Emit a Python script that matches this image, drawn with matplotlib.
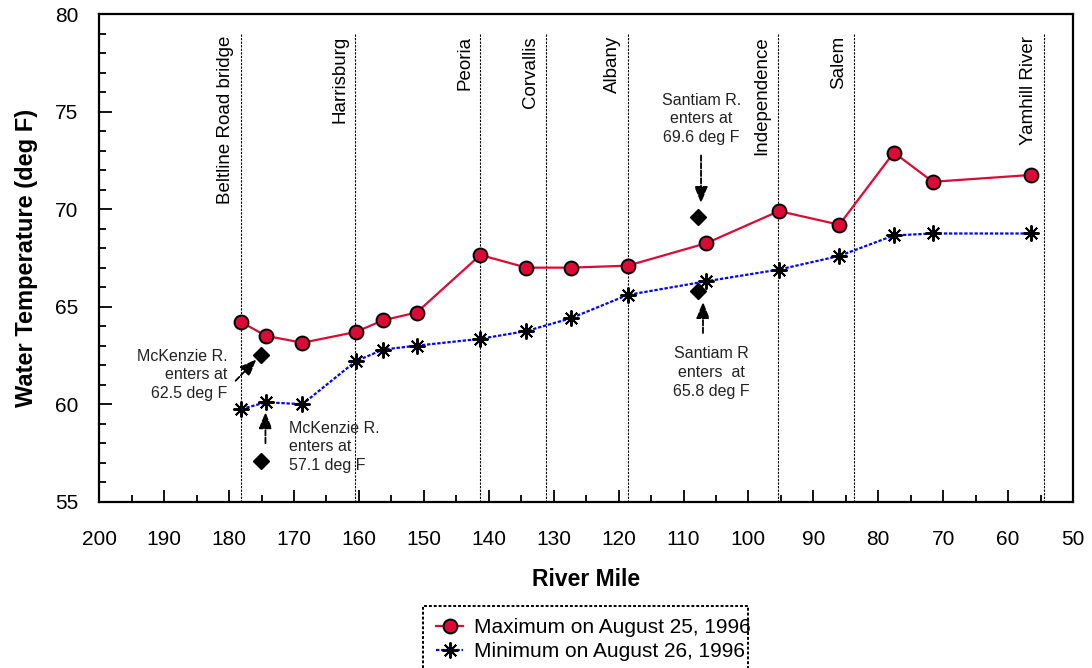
import matplotlib
matplotlib.use("Agg")
import matplotlib.pyplot as plt
from matplotlib.patches import Rectangle
from matplotlib.ticker import MultipleLocator

plt.rcParams['font.family'] = ['Liberation Sans', 'DejaVu Sans']

# ---- data ----
max_miles = [178.1, 174.3, 168.7, 160.5, 156.3, 151.1, 141.3, 134.2, 127.4, 118.6,
             106.5, 95.3, 86.0, 77.6, 71.6, 56.5]
max_temps = [64.2, 63.5, 63.15, 63.7, 64.3, 64.7, 67.65, 67.0, 67.0, 67.1,
             68.25, 69.9, 69.2, 72.9, 71.4, 71.75]
min_miles = [178.1, 174.3, 168.7, 160.5, 156.3, 151.1, 141.3, 134.2, 127.4, 118.6,
             106.5, 95.3, 86.0, 77.6, 71.6, 56.5]
min_temps = [59.75, 60.1, 60.0, 62.2, 62.8, 63.0, 63.35, 63.75, 64.4, 65.6,
             66.3, 66.9, 67.6, 68.65, 68.75, 68.75]

station_names = ["Beltline Road bridge", "Harrisburg", "Peoria", "Corvallis", "Albany",
                 "Independence", "Salem", "Yamhill River"]
station_miles = [178.1, 160.6, 141.3, 131.2, 118.6, 95.5, 83.7, 54.5]

trib_miles = [175.1, 175.1, 107.7, 107.7]
trib_temps = [62.5, 57.1, 69.6, 65.8]

legend_labels = ["Maximum on August 25, 1996", "Minimum on August 26, 1996"]

fig = plt.figure(figsize=(10.92, 6.68), dpi=100)
ax = fig.add_axes([0.0909, 0.2489, 0.8917, 0.7301])

ax.set_xlim(200, 50)
ax.set_ylim(55, 80)

# station lines and labels
ax.vlines(station_miles, 55, 79.0, colors='black', linewidth=0.8,
          linestyles=(0, (2, 1.2)), zorder=1)
for name, m in zip(station_names, station_miles):
    ax.annotate(name, xy=(m, 78.87), xytext=(-5, 0), textcoords='offset points',
                rotation=90, ha='right', va='top', fontsize=13.5)

# series
l1, = ax.plot(max_miles, max_temps, color='#DC0A36', linewidth=1.6, marker='o',
              markersize=10, markerfacecolor='#DC0A36', markeredgecolor='black',
              markeredgewidth=1.4, zorder=4)
l2, = ax.plot(min_miles, min_temps, color='#0000FF', linewidth=1.6,
              linestyle=(0, (1.5, 0.8)), marker=(8, 2, 0), markersize=11.5,
              markeredgecolor='black', markerfacecolor='black',
              markeredgewidth=1.4, zorder=4)

# tributary inflow diamonds
ax.plot(trib_miles, trib_temps, linestyle='none', marker='D', markersize=8,
        color='black', zorder=5)

# arrows
arrow_kw = dict(arrowstyle='-|>,head_length=1.0,head_width=0.4', color='black',
                linewidth=1.3, linestyle=(0, (3, 1.2)), shrinkA=0, shrinkB=0)
ax.annotate('', xy=(175.8, 62.3), xytext=(179.0, 61.2), arrowprops=arrow_kw)
ax.annotate('', xy=(174.4, 59.6), xytext=(174.4, 58.0), arrowprops=arrow_kw)
ax.annotate('', xy=(107.3, 70.3), xytext=(107.3, 72.75), arrowprops=arrow_kw)
ax.annotate('', xy=(107.0, 65.25), xytext=(107.0, 63.65), arrowprops=arrow_kw)

# annotation texts
ann_fs = 11.5
ax.text(180.2, 61.5, "McKenzie R.\nenters at\n62.5 deg F", ha='right', va='center',
        multialignment='right', fontsize=ann_fs, linespacing=1.3, color='#222222')
ax.text(170.7, 57.82, "McKenzie R.\nenters at\n57.1 deg F", ha='left', va='center',
        multialignment='left', fontsize=ann_fs, linespacing=1.3, color='#222222')
ax.text(107.2, 74.62, "Santiam R.\nenters at\n69.6 deg F", ha='center', va='center',
        multialignment='center', fontsize=ann_fs, linespacing=1.3, color='#222222')
ax.text(105.7, 61.62, "Santiam R\nenters  at\n65.8 deg F", ha='center', va='center',
        multialignment='center', fontsize=ann_fs, linespacing=1.3, color='#222222')

# axes styling
ax.xaxis.set_major_locator(MultipleLocator(10))
ax.xaxis.set_minor_locator(MultipleLocator(5))
ax.yaxis.set_major_locator(MultipleLocator(5))
ax.yaxis.set_minor_locator(MultipleLocator(1))
ax.tick_params(which='both', direction='in', width=1.3)
ax.tick_params(which='major', length=9, labelsize=15)
ax.tick_params(axis='x', which='major', pad=20)
ax.tick_params(axis='y', which='major', pad=15)
ax.tick_params(which='minor', length=5)
for s in ax.spines.values():
    s.set_linewidth(1.6)

ax.set_xlabel("River Mile", fontsize=16.5, fontweight='bold', labelpad=14)
ax.set_ylabel("Water Temperature (deg F)", fontsize=17, fontweight='bold', labelpad=12)

# legend
fig.legend([l1, l2], legend_labels, loc='center left',
           bbox_to_anchor=(436 / 1092, 1 - 639.5 / 668), frameon=False,
           fontsize=15, handlelength=1.3, handletextpad=0.5, borderpad=0,
           borderaxespad=0, labelspacing=0.25)
fig.patches.append(Rectangle((422.7 / 1092, -0.05), (748.3 - 422.7) / 1092,
                             0.05 + 1 - 606 / 668, transform=fig.transFigure,
                             fill=False, edgecolor='black', linewidth=1.4,
                             linestyle=(0, (1.5, 1)), zorder=10))

fig.savefig("out.png", dpi=100)
